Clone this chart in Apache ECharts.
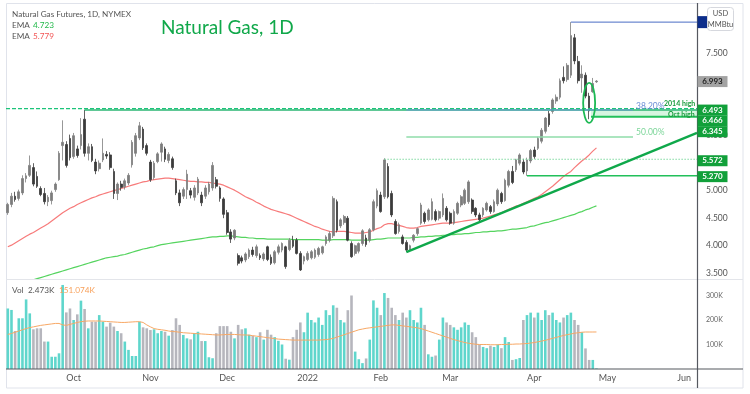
<!DOCTYPE html>
<html><head><meta charset="utf-8">
<script src="https://cdn.jsdelivr.net/npm/echarts@6/dist/echarts.min.js"></script>
<style>html,body{margin:0;padding:0;background:#fff}#c{width:750px;height:394px}</style>
</head><body><div id="c"></div>
<script>
// ---------- DATA ----------
const opens = [4.60,4.75,4.90,4.86,4.96,5.22,5.28,5.42,5.26,5.04,4.95,4.80,4.82,5.02,5.20,5.82,5.84,5.95,
5.62,5.76,5.82,6.30,5.68,5.80,5.52,5.40,5.56,5.66,5.65,5.35,4.95,5.12,5.07,5.14,5.47,5.68,5.96,6.12,5.82,
5.52,5.24,5.53,5.70,5.76,5.55,5.58,5.18,4.96,4.90,5.02,5.00,4.88,4.96,4.92,4.90,4.98,5.05,5.20,5.05,4.85,
4.60,4.25,4.14,3.82,3.78,3.74,3.80,3.92,3.82,3.82,3.76,3.98,3.79,3.69,3.88,3.92,3.98,3.93,4.10,4.10,3.86,3.72,
3.75,3.78,3.79,3.84,3.87,4.04,4.10,4.18,4.80,4.36,4.42,4.50,4.04,3.86,3.90,4.04,4.14,4.10,4.29,4.72,
4.92,4.89,5.44,4.95,4.44,4.26,4.16,4.06,3.92,4.10,4.22,4.41,4.59,4.47,4.48,4.62,4.50,4.56,4.68,
4.59,4.41,4.59,4.74,4.77,4.80,4.83,4.68,4.56,4.56,4.65,4.71,4.62,4.76,4.95,4.82,5.10,5.35,5.38,5.50,5.52,5.36,5.54,
5.74,5.77,5.90,6.08,6.40,6.44,6.63,6.70,7.06,7.02,7.10,7.78,7.35,7.05,7.10,6.72,6.80,6.98];
const highs = [4.78,4.96,4.98,5.02,5.28,5.32,5.64,5.50,5.35,5.08,5.05,4.92,5.00,5.15,5.72,6.28,5.90,6.02,
6.05,5.82,6.32,6.47,5.86,5.85,5.58,5.55,5.95,5.72,5.70,5.40,5.15,5.18,5.22,5.32,5.92,6.05,6.25,6.16,5.86,
5.56,5.54,5.70,5.88,5.80,5.70,5.62,5.22,5.02,5.06,5.38,5.05,5.10,5.25,4.98,5.10,5.16,5.52,5.25,5.08,4.88,
4.65,4.30,4.30,3.86,3.82,3.88,3.95,3.98,4.02,3.86,3.88,4.00,3.84,3.92,4.02,4.06,4.00,4.14,4.18,4.14,3.90,3.82,
3.90,3.92,3.95,3.98,4.00,4.19,4.26,4.90,4.84,4.50,4.56,4.54,4.08,4.02,4.06,4.30,4.20,4.32,4.84,5.04,
4.98,5.59,5.50,5.00,4.48,4.42,4.20,4.10,4.02,4.21,4.33,4.78,4.62,4.68,4.86,4.66,4.64,4.95,4.72,
4.62,4.66,4.80,4.92,5.04,5.19,4.86,4.70,4.60,4.70,4.80,4.74,4.84,5.04,4.98,5.22,5.38,5.45,5.58,5.68,5.58,5.60,5.76,
5.80,5.98,6.14,6.34,6.45,6.68,6.75,7.04,7.26,7.32,8.065,7.85,7.45,7.28,7.15,6.78,7.05,7.01];
const lows = [4.56,4.70,4.80,4.82,4.92,5.15,5.25,5.08,5.05,4.90,4.75,4.72,4.75,4.98,5.18,5.55,5.42,5.55,
5.58,5.60,5.75,5.62,5.55,5.52,5.30,5.35,5.52,5.58,5.38,4.85,4.83,5.00,5.02,5.10,5.42,5.62,5.92,5.74,5.64,
5.16,5.20,5.50,5.53,5.52,5.50,5.38,4.92,4.72,4.85,4.85,4.86,4.82,4.92,4.72,4.85,4.93,5.00,5.04,4.80,4.50,
4.20,4.05,4.10,3.64,3.68,3.70,3.76,3.80,3.78,3.74,3.72,3.72,3.65,3.66,3.84,3.88,3.58,3.90,3.96,3.84,3.54,3.66,
3.72,3.75,3.76,3.80,3.84,4.00,4.06,4.14,4.24,4.32,4.38,4.08,3.78,3.82,3.86,4.00,3.98,4.06,4.26,4.68,
4.60,4.85,4.86,4.52,4.20,4.22,4.02,3.885,3.89,4.06,4.18,4.38,4.40,4.44,4.46,4.44,4.46,4.52,4.44,
4.38,4.38,4.56,4.70,4.74,4.76,4.58,4.52,4.44,4.52,4.62,4.58,4.60,4.72,4.76,4.80,5.06,5.12,5.34,5.46,5.30,5.27,5.50,
5.58,5.74,5.86,6.04,6.16,6.40,6.58,6.66,6.95,6.98,7.05,7.30,6.95,6.78,6.68,6.30,6.78,6.96];
const closes = [4.75,4.90,4.84,4.98,5.22,5.27,5.46,5.12,5.08,4.93,4.80,4.88,4.96,5.12,5.68,5.88,5.46,5.60,
6.00,5.64,6.02,5.68,5.80,5.55,5.36,5.50,5.68,5.63,5.42,4.95,5.12,5.06,5.18,5.28,5.88,6.00,6.18,5.78,5.68,
5.20,5.50,5.67,5.85,5.57,5.66,5.42,4.96,4.78,5.02,5.30,4.92,5.05,5.21,4.78,5.05,5.12,5.46,5.08,4.86,4.57,
4.24,4.12,4.28,3.68,3.72,3.85,3.92,3.84,3.98,3.78,3.85,3.75,3.68,3.89,3.98,4.04,3.62,4.10,3.99,3.86,3.56,3.80,
3.86,3.89,3.92,3.95,3.98,4.16,4.22,4.86,4.28,4.47,4.53,4.10,3.80,4.00,4.04,4.27,4.02,4.29,4.80,5.00,
4.62,5.56,4.89,4.56,4.22,4.38,4.04,3.92,4.00,4.19,4.31,4.74,4.44,4.65,4.80,4.47,4.62,4.86,4.47,
4.41,4.62,4.77,4.89,5.01,5.16,4.62,4.56,4.47,4.68,4.77,4.62,4.80,5.01,4.80,5.19,5.35,5.15,5.56,5.65,5.34,5.56,5.73,
5.62,5.95,6.10,6.32,6.20,6.65,6.70,7.00,7.00,7.28,7.82,7.36,7.00,7.12,6.72,6.45,6.95,6.993];
const volumes = [247,241,155,207,207,284,227,162,166,166,112,112,50,50,64,343,231,247,
200,223,279,245,166,193,193,220,193,173,189,173,155,146,112,78,53,53,193,170,166,
159,162,146,155,152,136,159,207,180,139,125,121,146,152,114,114,48,44,146,175,175,
175,152,125,180,162,166,140,135,130,150,120,160,140,130,115,100,42,38,130,160,190,150,
230,200,190,210,180,240,220,260,250,200,190,240,300,71,40,24,43,120,280,250,
220,310,290,250,220,200,230,210,240,200,190,250,180,60,50,55,120,210,190,
180,170,160,170,190,180,150,130,100,90,85,95,90,100,85,130,110,37,40,45,200,220,230,
210,230,200,240,220,230,200,190,210,220,230,200,180,150,84,37,37,2.473];
const volumeMA = [141,145,150,155,160,165,169,172,175,178,180,182,184,186,186,180,178,182,
186,190,193,195,196,196,196,196,195,194,193,192,191,190,190,191,192,193,193,190,180,
172,165,162,160,158,155,153,152,150,148,147,146,145,144,143,142,141,140,139,139,140,
141,141,141,140,139,139,138,136,134,132,130,128,126,124,122,121,120,119,118,118,118,118,
118,118,118,118,119,120,122,125,130,135,140,145,150,155,160,163,166,168,170,172,
174,176,178,180,180,178,176,174,172,170,168,165,160,155,150,145,140,135,130,
125,120,116,112,108,105,103,101,100,100,100,99,99,99,100,100,101,101,102,102,103,104,106,
108,111,114,117,121,125,129,133,137,140,143,146,148,150,151,151,151,151.074];
const emaFast = [3.98,4.01,4.05,4.09,4.13,4.17,4.21,4.24,4.28,4.32,4.36,4.40,
4.45,4.50,4.55,4.60,4.64,4.68,4.71,4.75,4.78,
4.81,4.84,4.87,4.89,4.92,4.94,4.96,4.98,
5.00,5.02,5.04,5.06,5.08,5.10,5.12,5.14,
5.16,5.17,5.19,5.20,5.21,5.22,5.23,5.23,
5.22,5.21,5.20,5.19,5.18,5.17,5.17,5.16,
5.16,5.15,5.15,5.14,5.13,5.12,5.10,5.07,5.04,5.01,
4.97,4.93,4.89,4.86,4.83,4.79,4.76,4.72,4.69,
4.66,4.64,4.62,4.60,4.58,4.56,4.53,4.50,4.47,
4.44,4.41,4.38,4.35,4.33,4.30,4.28,4.26,4.25,
4.26,4.26,4.26,4.25,4.24,4.23,4.23,4.23,4.24,4.25,
4.28,4.31,4.33,4.38,4.40,4.40,4.38,
4.37,4.35,4.33,4.32,4.32,4.33,
4.35,4.36,4.37,4.38,4.39,4.40,4.41,4.41,
4.41,4.42,4.43,4.44,4.45,4.46,4.47,
4.48,4.49,4.50,4.52,4.54,4.56,4.58,
4.60,4.63,4.66,4.69,4.72,4.74,4.77,
4.80,4.83,4.86,4.89,4.93,4.98,5.03,
5.08,5.14,5.20,5.26,5.31,5.35,5.42,
5.48,5.54,5.59,5.65,5.72,5.779];
const emaSlow = [3.22,3.25,3.27,3.30,3.32,3.34,3.36,3.38,3.40,3.42,
3.44,3.46,3.48,3.50,3.52,3.54,3.56,3.58,3.60,3.62,
3.64,3.66,3.68,3.70,3.72,3.74,3.76,3.78,3.79,3.80,
3.81,3.83,3.84,3.86,3.88,3.90,3.92,3.94,3.95,3.97,
3.98,4.00,4.02,4.03,4.04,4.05,4.06,4.07,4.08,4.09,
4.10,4.11,4.12,4.13,4.14,4.15,4.16,4.16,4.17,4.17,
4.18,4.18,4.17,4.16,4.15,4.15,4.14,4.14,4.13,4.13,
4.13,4.12,4.12,4.12,4.12,4.12,4.12,4.12,4.11,4.11,
4.11,4.11,4.11,4.11,4.11,4.11,4.10,4.10,4.10,4.11,
4.11,4.11,4.11,4.11,4.10,4.10,4.10,4.10,4.10,4.10,
4.11,4.12,4.12,4.13,4.14,4.14,4.14,4.14,4.14,4.14,
4.14,4.15,4.15,4.16,4.16,4.17,4.17,4.18,4.18,4.19,
4.19,4.20,4.20,4.21,4.21,4.22,4.22,4.23,4.24,4.24,
4.25,4.25,4.26,4.26,4.27,4.27,4.28,4.29,4.30,4.30,
4.31,4.32,4.33,4.35,4.36,4.38,4.40,4.42,4.43,4.45,
4.47,4.49,4.51,4.53,4.55,4.57,4.60,4.62,4.65,4.67,4.70,4.723];
const monthTickLabels = ['Oct','Nov','Dec','2022','Feb','Mar','Apr','May','Jun'];
const yTickValues = [3.5, 4.0, 4.5, 5.0, 6.0, 7.5];
const volTickValues = [100, 200, 300];
const level2014High = 6.493, levelOctHigh = 6.466, zoneLow = 6.345;
const fib382 = 6.468, fib50 = 5.975, swingHigh = 8.065, swingLow = 3.885;
const levelFeb = 5.572, levelMar = 5.270, trendEnd = 6.05, lastPrice = 6.993;

// ---------- categories (trading days, incl. future) ----------
const TOTAL = 189;
const holidays = ['2021-11-25','2021-12-24','2022-01-17','2022-02-21','2022-04-15','2022-05-30'];
const cats = [];
{ let d = new Date(Date.UTC(2021,8,7));
  while (cats.length < TOTAL) {
    const wd = d.getUTCDay(); const s = d.toISOString().slice(0,10);
    if (wd !== 0 && wd !== 6 && holidays.indexOf(s) < 0) cats.push(s);
    d = new Date(d.getTime() + 86400000);
  } }
const monthStart = {};
{ let k = 0; for (let i = 1; i < cats.length; i++) if (cats[i].slice(5,7) !== cats[i-1].slice(5,7)) monthStart[i] = monthTickLabels[k++]; }

const UP = '#7d7d7d', DOWN = '#3b3b3b';
const FONT = 'Lato, "Open Sans", sans-serif';
const N = TOTAL;

function seg(x1, y1, x2, y2, color, width, type, z) {
  return { type:'line', xAxisIndex:2, yAxisIndex:0, data:[[x1,y1],[x2,y2]], symbol:'none', silent:true,
    lineStyle:{color, width, type: type || 'solid'}, z: z || 5, animation:false };
}

const chart = echarts.init(document.getElementById('c'));
const option = {
  animation:false,
  backgroundColor:'#ffffff',
  grid:[{left:6, right:53, top:3, height:276},{left:6, right:53, top:279, height:90}],
  xAxis:[
    {type:'category', gridIndex:0, data:cats, axisLine:{show:false}, axisTick:{show:false}, axisLabel:{show:false}, splitLine:{show:false}},
    {type:'category', gridIndex:1, data:cats, axisLine:{show:false}, axisTick:{show:false}, splitLine:{show:false},
      axisLabel:{interval:(i)=> monthStart[i] !== undefined, formatter:(v,i)=> monthStart[i] || '', color:'#555', fontSize:9, margin:5, fontFamily:FONT}},
    {type:'value', gridIndex:0, min:-0.5, max:N-0.5, show:false, position:'top'}
  ],
  yAxis:[
    {type:'value', gridIndex:0, position:'right', min:3.3945, max:8.4127, splitLine:{show:false}, axisLine:{show:false}, axisTick:{show:false},
      axisLabel:{customValues:yTickValues, formatter:v=>v.toFixed(3), color:'#555', fontSize:8.5, margin:9, fontFamily:FONT}},
    {type:'value', gridIndex:1, position:'right', min:0, max:367.3, splitLine:{show:false}, axisLine:{show:false}, axisTick:{show:false},
      axisLabel:{customValues:volTickValues, formatter:v=>v+'K', color:'#666', fontSize:7, margin:9, fontFamily:FONT}}
  ],
  series:[
    {type:'line', xAxisIndex:0, yAxisIndex:0, data:emaSlow, symbol:'none', lineStyle:{color:'#55d45f', width:1.2}, z:2, silent:true},
    {type:'line', xAxisIndex:0, yAxisIndex:0, data:emaFast, symbol:'none', lineStyle:{color:'#f77b7b', width:1.2}, z:2, silent:true},
    {type:'candlestick', xAxisIndex:0, yAxisIndex:0, barWidth:2.2, z:3,
      data: opens.map((o,i)=>[o, closes[i], lows[i], highs[i]]),
      itemStyle:{color:UP, color0:DOWN, borderColor:UP, borderColor0:DOWN, borderWidth:0.8}},
    {type:'bar', xAxisIndex:1, yAxisIndex:1, barWidth:2.6, z:2,
      data: volumes.map((v,i)=>({value:v, itemStyle:{color: closes[i] >= opens[i] ? '#5fd6cc' : '#b6b6bd'}}))},
    {type:'line', xAxisIndex:1, yAxisIndex:1, data:volumeMA, symbol:'none', lineStyle:{color:'#f8a865', width:1}, z:3, silent:true},
    seg(-0.5, level2014High, N-0.5, level2014High, '#1cc47a', 1.4, [4,2], 6),
    seg(21, levelOctHigh, N-0.5, levelOctHigh, '#2bb673', 1.4, 'solid', 5),
    seg(109, fib382, 171, fib382, '#6b93dc', 1, 'solid', 6),
    seg(109, fib50, 171, fib50, '#8fdcaa', 1.5, 'solid', 5),
    seg(154, swingHigh, N-0.5, swingHigh, '#4a6cc4', 1, 'solid', 5),
    seg(103, levelFeb, N-0.5, levelFeb, '#7fd9a0', 1.2, [1.5,1.5], 5),
    seg(142, levelMar, N-0.5, levelMar, '#22c05a', 1.5, 'solid', 5),
    Object.assign(seg(159.5, zoneLow, N-0.5, zoneLow, '#22c05a', 2, 'solid', 5), {
      markArea:{silent:true, itemStyle:{color:'rgba(90,215,130,0.25)'}, data:[[{coord:[159.5, levelOctHigh]},{coord:[N-0.5, zoneLow]}]]}}),
    seg(109, swingLow, N-0.5, trendEnd, '#0fa84a', 2.4, 'solid', 7)
  ]
};
chart.setOption(option);

const py = v => chart.convertToPixel({yAxisIndex:0}, v);
const px = i => chart.convertToPixel({xAxisIndex:2}, i);
const AX = 697.5;
function txt(x, y, text, fill, font, align) {
  return {type:'text', z:200, style:{x, y, text, fill, font, textAlign:align||'left', align:align||'left', textVerticalAlign:'middle', verticalAlign:'middle'}};
}
function box(yc, text, bg, fg) {
  return [
    {type:'rect', z:150, shape:{x:AX, y:yc-5.5, width:30, height:11}, style:{fill:bg}},
    txt(AX+15, yc, text, fg, 'bold 8px ' + FONT, 'center')
  ];
}
const G = 'rgb(17,160,58)';
const SMALL = '8.2px ' + FONT;
let gfx = [
  {type:'rect', z:0, shape:{x:6.5, y:3.5, width:736.5, height:384.5}, style:{fill:'none', stroke:'#e0e3eb', lineWidth:1}},
  {type:'line', z:120, shape:{x1:6, y1:279.5, x2:743, y2:279.5}, style:{stroke:'#e3e5ea', lineWidth:1}},
  {type:'line', z:120, shape:{x1:6, y1:369, x2:743, y2:369}, style:{stroke:'#55585f', lineWidth:1.2}},
  {type:'line', z:120, shape:{x1:AX, y1:3, x2:AX, y2:388}, style:{stroke:'#55585f', lineWidth:1.2}},
  txt(12, 14, 'Natural Gas Futures, 1D, NYMEX', '#555', SMALL),
  txt(12, 25.5, 'EMA', '#555', SMALL), txt(33, 25.5, '4.723', '#22b84a', SMALL),
  txt(12, 36, 'EMA', '#555', SMALL), txt(33, 36, '5.779', '#f25555', SMALL),
  txt(161, 28, 'Natural Gas, 1D', '#10a84a', '19px ' + FONT),
  txt(12, 290, 'Vol', '#555', SMALL), txt(28, 290, '2.473K', '#555', SMALL), txt(59, 290, '151.074K', '#f8a05a', SMALL),
  txt(px(171) + 3, py(fib382) - 3.5, '38.20%', '#6d8fd6', '8.5px ' + FONT),
  txt(px(171) + 3, py(fib50) - 4.5, '50.00%', '#7dd69a', '8.5px ' + FONT),
  txt(664, py(level2014High) - 4.5, '2014 high', '#1a9c3e', 'bold 7px ' + FONT),
  txt(668, py(zoneLow) - 1.5, 'Oct high', '#1a9c3e', 'bold 7px ' + FONT),
  {type:'ellipse', z:130, shape:{cx:px(159), cy:py(6.595), rx:6, ry:20}, style:{fill:'none', stroke:'#1db954', lineWidth:1.8}},
  {type:'rect', z:150, shape:{x:AX, y:py(swingHigh)-6, width:10, height:12}, style:{fill:'#0c2d8a'}},
  {type:'rect', z:160, shape:{x:707.5, y:7.5, width:26, height:23, r:3}, style:{fill:'#fff', stroke:'#d6d8de', lineWidth:1}},
  txt(720.5, 14, 'USD', '#555', '7.5px ' + FONT, 'center'),
  txt(720.5, 25, 'MMBtu', '#555', '7.5px ' + FONT, 'center')
];
gfx = gfx.concat(box(py(lastPrice) + 0.5, '6.993', '#a3a3a3', '#222'));
const yTop = py(level2014High) + 1.5;
gfx = gfx.concat(box(yTop, '6.493', G, '#fff'), box(yTop + 10.8, '6.466', G, '#fff'), box(yTop + 21.6, '6.345', G, '#fff'));
gfx = gfx.concat(box(py(levelFeb) + 1.5, '5.572', G, '#fff'), box(py(levelMar) + 0.8, '5.270', G, '#fff'));
chart.setOption({graphic: gfx});
</script>
</body></html>
